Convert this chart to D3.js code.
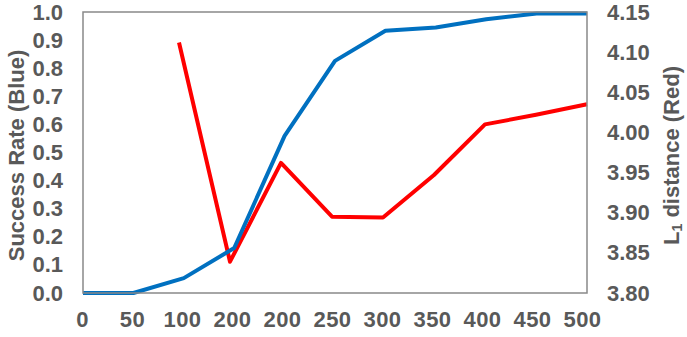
<!DOCTYPE html>
<html><head><meta charset="utf-8">
<script src="https://cdn.jsdelivr.net/npm/d3@7"></script>
<style>body{margin:0;background:#fff}svg{display:block}</style>
</head><body>
<script>
const categories = ["0","50","100","200","200","250","300","350","400","450","500"];
const successRate = [0, 0, 0.053, 0.16, 0.559, 0.826, 0.933, 0.945, 0.974, 0.995, 0.995];
const l1Distance = [null, null, 4.112, 3.839, 3.962, 3.895, 3.894, 3.947, 4.010, 4.022, 4.035];
const leftTicks = [0,0.1,0.2,0.3,0.4,0.5,0.6,0.7,0.8,0.9,1.0];
const rightTicks = [3.80,3.85,3.90,3.95,4.00,4.05,4.10,4.15];

const W=687,H=337;
const m={left:83,right:100,top:12,bottom:44};
const svg=d3.select("body").append("svg").attr("width",W).attr("height",H);
const x=d3.scalePoint().domain(d3.range(categories.length)).range([m.left,W-m.right]);
const xLab=d3.scalePoint().domain(d3.range(categories.length)).range([m.left-1,W-m.right-5]);
const xRed=d3.scalePoint().domain(d3.range(categories.length)).range([m.left-6,W-m.right]);
const yL=d3.scaleLinear().domain([0,1]).range([H-m.bottom,m.top]);
const yR=d3.scaleLinear().domain([3.8,4.15]).range([H-m.bottom,m.top]);
const font="'Liberation Sans', Arial, sans-serif";
const grey="#595959";

const ax=svg.append("g").attr("transform",`translate(0,${H-m.bottom})`)
  .call(d3.axisBottom(xLab).tickFormat(i=>categories[i]).tickSize(0).tickPadding(18));
const al=svg.append("g").attr("transform",`translate(${m.left},0)`)
  .call(d3.axisLeft(yL).tickValues(leftTicks).tickFormat(d3.format(".1f")).tickSize(0).tickPadding(20));
const ar=svg.append("g").attr("transform",`translate(${W-m.right},0)`)
  .call(d3.axisRight(yR).tickValues(rightTicks).tickFormat(d3.format(".2f")).tickSize(0).tickPadding(20));
[ax,al,ar].forEach(g=>{g.select(".domain").remove();
  g.selectAll("text").attr("fill",grey).style("font-family",font).style("font-size","22px").style("font-weight","bold");});
ax.selectAll("text").style("letter-spacing","0.5px");

svg.append("path").attr("d",d3.line().defined(d=>d!=null).x((d,i)=>xRed(i)).y(d=>yR(d))(l1Distance))
  .attr("fill","none").attr("stroke","#FF0000").attr("stroke-width",4).attr("stroke-linejoin","round");
svg.append("path").attr("d",d3.line().x((d,i)=>x(i)).y(d=>yL(d))(successRate))
  .attr("fill","none").attr("stroke","#0070C0").attr("stroke-width",4).attr("stroke-linejoin","round");

svg.append("rect").attr("x",m.left).attr("y",m.top).attr("width",W-m.right-m.left).attr("height",H-m.bottom-m.top)
  .attr("fill","none").attr("stroke","#898989").attr("stroke-width",1.5);

svg.append("text").attr("transform",`translate(16,${(m.top+H-m.bottom)/2+3}) rotate(-90)`)
  .attr("text-anchor","middle").attr("dominant-baseline","central")
  .attr("fill",grey).style("font-family",font).style("font-size","22px").style("font-weight","bold")
  .text("Success Rate (Blue)");
const t=svg.append("text").attr("transform",`translate(671,${(m.top+H-m.bottom)/2+3}) rotate(-90)`)
  .attr("text-anchor","middle").attr("dominant-baseline","central")
  .attr("fill",grey).style("font-family",font).style("font-size","22px").style("font-weight","bold");
t.append("tspan").text("L");
t.append("tspan").attr("font-size","14px").attr("dy","6").text("1");
t.append("tspan").attr("dy","-6").text(" distance (Red)");
</script>
</body></html>
